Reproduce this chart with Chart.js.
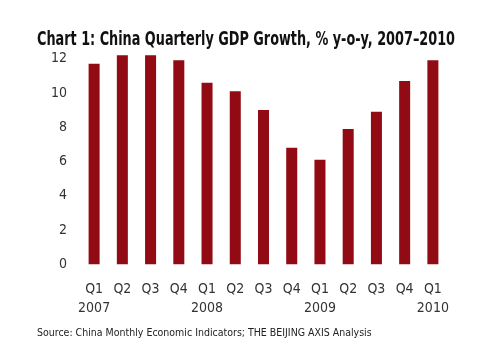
<!DOCTYPE html>
<html lang="en">
<head>
  <meta charset="UTF-8" />
  <title>China Quarterly GDP Growth</title>
  <style>
    html, body {
      margin: 0;
      padding: 0;
      background: white;
    }
    canvas {
      display: block;
    }
  </style>
</head>
<body>
  <canvas id="gdpChart" width="500" height="350"></canvas>

  <script src="https://cdn.jsdelivr.net/npm/chart.js"></script>
  <script>
    const quarters = ['Q1', 'Q2', 'Q3', 'Q4', 'Q1', 'Q2', 'Q3', 'Q4', 'Q1', 'Q2', 'Q3', 'Q4', 'Q1'];
    const years = ['2007', '', '', '', '2008', '', '', '', '2009', '', '', '', '2010'];
    const growth = [11.7, 12.2, 12.2, 11.9, 10.6, 10.1, 9.0, 6.8, 6.1, 7.9, 8.9, 10.7, 11.9];
    const yTicks = [0, 2, 4, 6, 8, 10, 12];

    const labels = quarters.map((q, i) => [q, years[i]]);

    const fontName = "'DejaVu Sans Condensed', 'Liberation Sans', sans-serif";

    const ctx = document.getElementById('gdpChart').getContext('2d');

    new Chart(ctx, {
      type: 'bar',
      data: {
        labels: labels,
        datasets: [{
          data: growth,
          backgroundColor: '#910a14',
          borderWidth: 0,
          categoryPercentage: 1,
          barPercentage: 0.39
        }]
      },
      options: {
        responsive: false,
        animation: false,
        layout: {
          padding: { left: 37, right: 45, top: 0, bottom: 0 }
        },
        plugins: {
          legend: { display: false },
          tooltip: { enabled: false },
          title: {
            display: true,
            text: 'Chart 1: China Quarterly GDP Growth, % y-o-y, 2007\u20132010',
            color: '#111',
            font: { family: fontName, size: 19, weight: 'bold', lineHeight: 1.2 },
            padding: { top: 29, bottom: 0 }
          },
          subtitle: {
            display: true,
            position: 'bottom',
            align: 'start',
            text: 'Source: China Monthly Economic Indicators; THE BEIJING AXIS Analysis',
            color: '#222',
            font: { family: fontName, size: 10.5, lineHeight: 1.2 },
            padding: { top: 7, bottom: 10 }
          }
        },
        scales: {
          x: {
            grid: { display: false, drawTicks: false },
            border: { display: false },
            ticks: {
              color: '#333',
              font: { family: fontName, size: 14, lineHeight: 1.35 },
              padding: 16,
              maxRotation: 0,
              autoSkip: false
            },
            afterFit: (scale) => { scale.height = 56; }
          },
          y: {
            min: 0,
            max: 12.4,
            afterBuildTicks: (scale) => { scale.ticks = yTicks.map(v => ({ value: v })); },
            grid: { display: false, drawTicks: false },
            border: { display: false },
            ticks: {
              color: '#333',
              font: { family: fontName, size: 14 },
              padding: 13
            },
            afterFit: (scale) => { scale.width = 43; }
          },
          // empty right axis, only keeps the plot edge at the reference position
          yRight: {
            position: 'right',
            min: 0,
            max: 12.4,
            grid: { display: false, drawTicks: false },
            border: { display: false },
            ticks: { display: false },
            afterFit: (scale) => { scale.width = 8; }
          }
        }
      }
    });
  </script>
</body>
</html>
